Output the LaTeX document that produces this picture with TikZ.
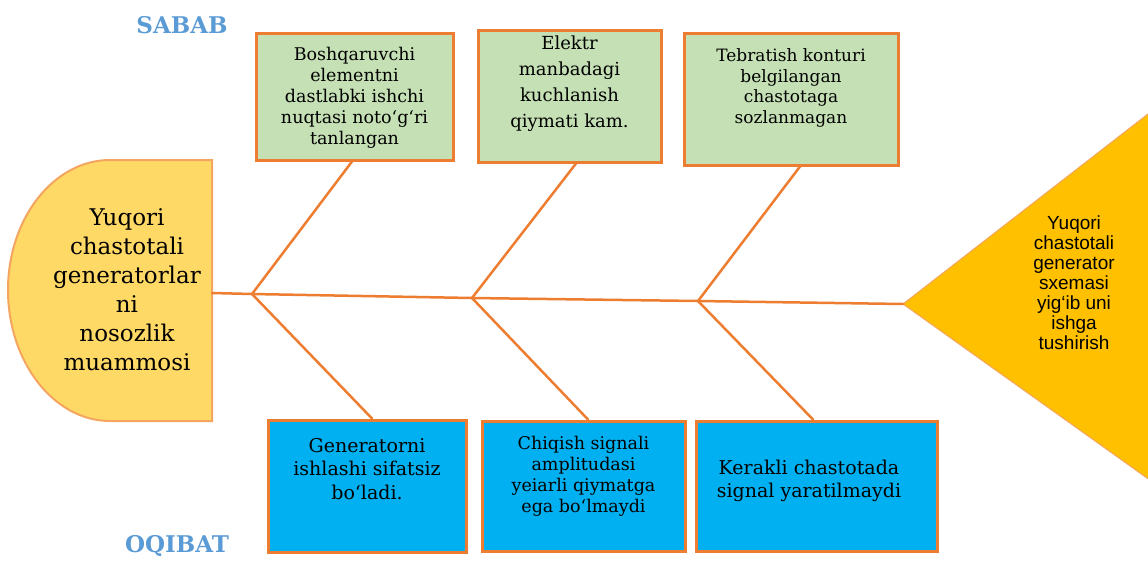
\documentclass[tikz,border=0pt]{standalone}
\usepackage{fontspec}
\setmainfont{DejaVu Serif}
\newfontfamily\sansf{Liberation Sans}
\usetikzlibrary{calc}
\definecolor{bord}{RGB}{237,125,49}
\definecolor{gfill}{RGB}{197,224,180}
\definecolor{bfill}{RGB}{0,176,240}
\definecolor{hfill}{RGB}{255,217,102}
\definecolor{hbord}{RGB}{244,165,96}
\definecolor{tfill}{RGB}{255,192,0}
\definecolor{ttl}{RGB}{91,155,213}
\tikzset{
  causebox/.style={draw=bord, line width=3pt, fill=gfill, inner sep=0pt},
  effbox/.style={draw=bord, line width=3pt, fill=bfill, inner sep=0pt},
  bone/.style={draw=bord, line width=2.5pt, line cap=round, line join=round},
  txt/.style={align=center, inner sep=0pt, text=black},
  title/.style={text=ttl, font=\fontsize{23}{26}\selectfont\bfseries, inner sep=0pt}
}
\begin{document}
\begin{tikzpicture}[x=1pt,y=-1pt]
\useasboundingbox (0,0) rectangle (1148,560);
% head
\path[fill=hfill, draw=hbord, line width=2pt]
  (212,160) -- (110,160) .. controls (54,160) and (8,218) .. (8,290)
  .. controls (8,362) and (54,421) .. (110,421) -- (212,421) -- cycle;
\node[txt, font=\fontsize{23}{29}\selectfont] (head) at (127,290)
  {Yuqori\\chastotali\\generatorlar\\ni\\nosozlik\\muammosi};
% effect triangle
\coordinate (tip) at (903,304);
\path[fill=tfill, draw=hbord, line width=1pt] (tip) -- (1175,93) -- (1175,498) -- cycle;
\node[txt, font=\sansf\fontsize{19}{20}\selectfont] (goal) at (1074,283)
  {Yuqori\\chastotali\\generator\\sxemasi\\yig‘ib uni\\ishga\\tushirish};
% spine
\coordinate (headR) at (212,293);
\coordinate (j1) at (252,294);
\coordinate (j2) at (472,298);
\coordinate (j3) at (698,301);
\draw[bone] (headR) -- (j1) -- (j2) -- (j3) -- (tip);
% cause boxes
\node[causebox, minimum width=197pt, minimum height=127pt] (g1) at (354.5,96.5) {};
\node[txt, font=\fontsize{17.5}{21}\selectfont] (g1t) at (354.5,98)
  {Boshqaruvchi\\elementni\\dastlabki ishchi\\nuqtasi noto‘g‘ri\\tanlangan};
\node[causebox, minimum width=183pt, minimum height=132pt] (g2) at (569.5,96) {};
\node[txt, font=\fontsize{18}{26}\selectfont] (g2t) at (569.5,84)
  {Elektr\\manbadagi\\kuchlanish\\qiymati kam.};
\node[causebox, minimum width=214pt, minimum height=132pt] (g3) at (791,99) {};
\node[txt, font=\fontsize{17}{20.5}\selectfont] (g3t) at (791,88)
  {Tebratish konturi\\belgilangan\\chastotaga\\sozlanmagan};
% effect boxes
\node[effbox, minimum width=198pt, minimum height=132pt] (b1) at (367,486) {};
\node[txt, font=\fontsize{19}{23.5}\selectfont] (b1t) at (367,469)
  {Generatorni\\ishlashi sifatsiz\\bo‘ladi.};
\node[effbox, minimum width=203pt, minimum height=130pt] (b2) at (583.5,486) {};
\node[txt, font=\fontsize{17.5}{21}\selectfont] (b2t) at (583.5,476)
  {Chiqish signali\\amplitudasi\\yeiarli qiymatga\\ega bo‘lmaydi};
\node[effbox, minimum width=241pt, minimum height=130pt] (b3) at (816.5,486) {};
\node[txt, font=\fontsize{19}{23}\selectfont] (b3t) at (809,481)
  {Kerakli chastotada\\signal yaratilmaydi};
% bones
\draw[bone] (j1) -- ([xshift=-2.5pt]g1.south);
\draw[bone] (j2) -- ([xshift=6.5pt]g2.south);
\draw[bone] (j3) -- ([xshift=9pt]g3.south);
\draw[bone] (j1) -- ([xshift=5pt]b1.north);
\draw[bone] (j2) -- ([xshift=4.5pt]b2.north);
\draw[bone] (j3) -- ([xshift=-3.5pt]b3.north);
% titles
\node[title, anchor=base] (sabab) at (182,33) {SABAB};
\node[title, anchor=base] (oqibat) at (177,552) {OQIBAT};
\end{tikzpicture}
\end{document}
